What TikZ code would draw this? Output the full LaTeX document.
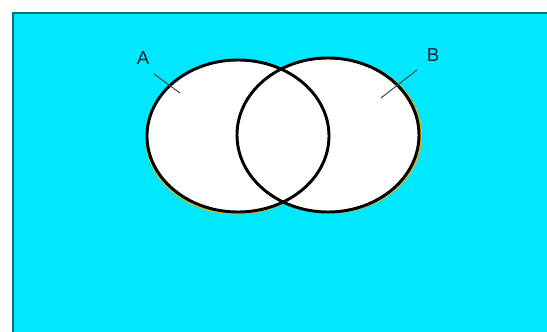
\documentclass[tikz,border=0pt]{standalone}
\usepackage{fontspec}
\setmainfont{Liberation Sans}
\definecolor{bgcyan}{HTML}{00E8FF}
\definecolor{bordteal}{HTML}{00707C}
\definecolor{shadowy}{HTML}{E0B020}
\definecolor{lbltext}{HTML}{002030}
\begin{document}
\begin{tikzpicture}[x=0.75pt,y=-0.75pt,
  setline/.style={black,line width=2.2pt},
  leader/.style={black!70,line width=0.8pt},
  lbl/.style={font=\fontsize{14}{14}\selectfont,text=lbltext,inner sep=0pt}]
\useasboundingbox (0,0) rectangle (547,332);
% background
\fill[bgcyan] (12,12) rectangle (547,332);
\draw[bordteal,line width=2pt] (13,332) -- (13,13) -- (547,13);
% yellow shadows
\draw[shadowy,line width=1.5pt] (237,137.5) ellipse (91 and 76);
\draw[shadowy,line width=1.5pt] (330,135.5) ellipse (91 and 77);
% fills
\fill[white] (238,136) ellipse (91 and 76);
\fill[white] (328,135) ellipse (91 and 77);
% outlines
\draw[setline] (238,136) ellipse (91 and 76);
\draw[setline] (328,135) ellipse (91 and 77);
% labels
\node[lbl] (A) at (143,58) {A};
\node[lbl] (B) at (433,55) {B};
\coordinate (a1) at (154,74);
\coordinate (a2) at (180,93);
\coordinate (b1) at (417,70);
\coordinate (b2) at (381,98);
\draw[leader] (a1) -- (a2);
\draw[leader] (b1) -- (b2);
\end{tikzpicture}
\end{document}
